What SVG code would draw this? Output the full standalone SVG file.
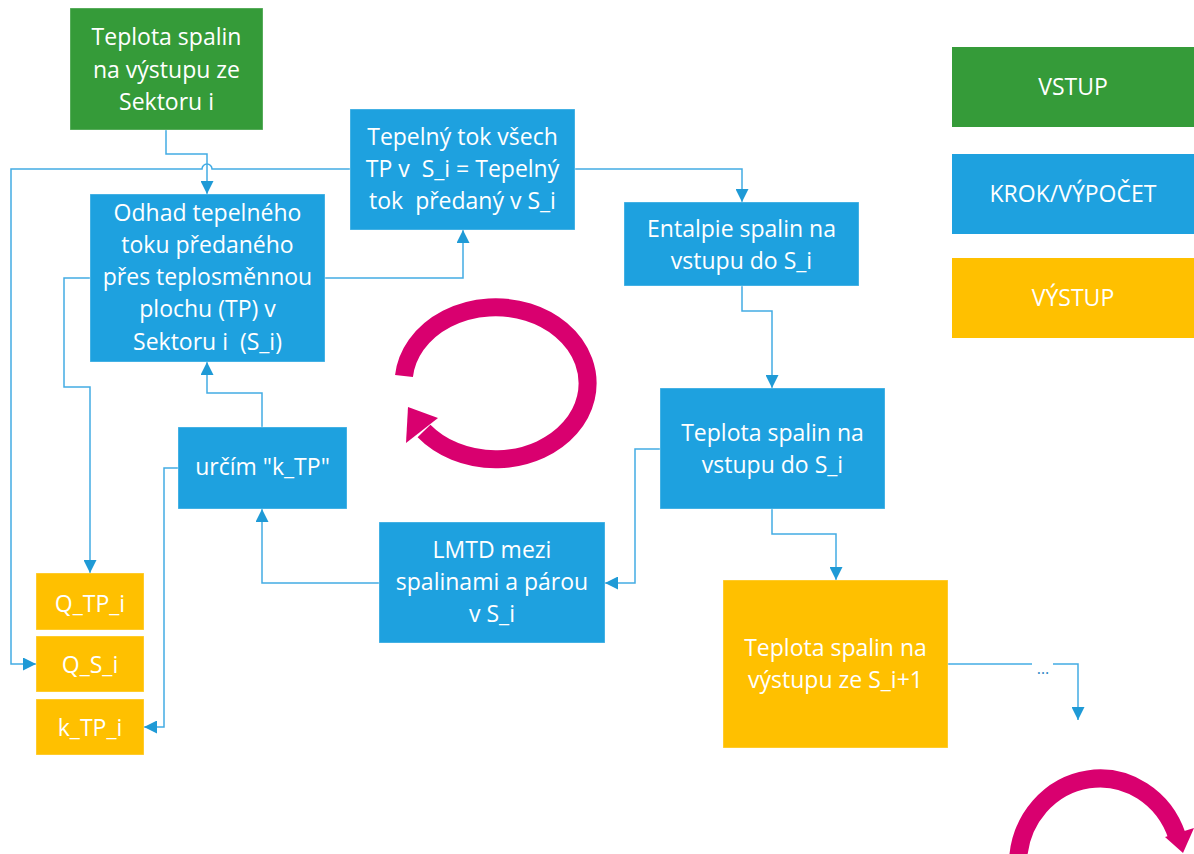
<svg xmlns="http://www.w3.org/2000/svg" width="1194" height="854" viewBox="0 0 1194 854">
<style>
.box{stroke:#ffffff;stroke-opacity:0.35;stroke-width:1}
.in{fill:#359b39}
.step{fill:#1ea1df}
.out{fill:#ffc000}
.t{font-family:"Open Sans","Noto Sans","DejaVu Sans",sans-serif;font-size:23px;fill:#ffffff;text-anchor:middle;white-space:pre}
.c{fill:none;stroke:#43ace4;stroke-width:1.5}
.pink{fill:none;stroke:#d9006f;stroke-width:18}
</style>
<defs>
<marker id="ah" markerUnits="userSpaceOnUse" markerWidth="13" markerHeight="13" viewBox="0 0 12 12" refX="12" refY="6" orient="auto">
<path d="M0,0 L12,6 L0,12 z" fill="#1f9ad6"/>
</marker>
</defs>
<rect width="1194" height="854" fill="#ffffff"/>

<g id="connectors">
<path class="c" d="M166 130 V154 H207 V194" marker-end="url(#ah)"/>
<path class="c" d="M350 169 H212 A5 5 0 0 0 202 169 H11 V664 H36" marker-end="url(#ah)"/>
<path class="c" d="M90 278 H64 V387 H90 V573" marker-end="url(#ah)"/>
<path class="c" d="M325 278 H463 V230" marker-end="url(#ah)"/>
<path class="c" d="M575 169 H742 V202" marker-end="url(#ah)"/>
<path class="c" d="M742 286 V311 H772 V388" marker-end="url(#ah)"/>
<path class="c" d="M660 449 H635 V583 H605" marker-end="url(#ah)"/>
<path class="c" d="M772 509 V534 H836 V580" marker-end="url(#ah)"/>
<path class="c" d="M379 583 H262 V509" marker-end="url(#ah)"/>
<path class="c" d="M178 468 H164 V727 H144" marker-end="url(#ah)"/>
<path class="c" d="M262 427 V393 H207 V362" marker-end="url(#ah)"/>
<path class="c" d="M948 664 H1032"/>
<path class="c" d="M1053 664 H1078 V720" marker-end="url(#ah)"/>
<text x="1043" y="674" font-family="'Open Sans','DejaVu Sans',sans-serif" font-size="16" fill="#2b86c5" text-anchor="middle">…</text>
</g>

<g id="n-input">
<rect class="box in" x="70" y="8" width="193" height="122"/>
<text class="t"><tspan x="166.5" y="45">Teplota spalin</tspan><tspan x="166.5" y="77.5">na výstupu ze</tspan><tspan x="166.5" y="110">Sektoru i</tspan></text>
</g>

<g id="n-odhad">
<rect class="box step" x="90" y="194" width="235" height="168"/>
<text class="t"><tspan x="207.5" y="220.5">Odhad tepelného</tspan><tspan x="207.5" y="252.8">toku předaného</tspan><tspan x="207.5" y="285">přes teplosměnnou</tspan><tspan x="207.5" y="317.3">plochu (TP) v</tspan><tspan x="207.5" y="349.5">Sektoru i  (S_i)</tspan></text>
</g>

<g id="n-tepelny">
<rect class="box step" x="350" y="109" width="225" height="121"/>
<text class="t"><tspan x="462.5" y="145">Tepelný tok všech</tspan><tspan x="462.5" y="177">TP v  S_i = Tepelný</tspan><tspan x="462.5" y="209">tok  předaný v S_i</tspan></text>
</g>

<g id="n-entalpie">
<rect class="box step" x="624" y="202" width="235" height="84"/>
<text class="t"><tspan x="741.5" y="237">Entalpie spalin na</tspan><tspan x="741.5" y="269">vstupu do S_i</tspan></text>
</g>

<g id="n-teplota-vstup">
<rect class="box step" x="660" y="388" width="225" height="121"/>
<text class="t"><tspan x="772.5" y="441">Teplota spalin na</tspan><tspan x="772.5" y="473">vstupu do S_i</tspan></text>
</g>

<g id="n-lmtd">
<rect class="box step" x="379" y="522" width="226" height="121"/>
<text class="t"><tspan x="492" y="558">LMTD mezi</tspan><tspan x="492" y="590">spalinami a párou</tspan><tspan x="492" y="622">v S_i</tspan></text>
</g>

<g id="n-urcim">
<rect class="box step" x="178" y="427" width="169" height="82"/>
<text class="t" x="262.5" y="475">určím "k_TP"</text>
</g>

<g id="n-output-next">
<rect class="box out" x="723" y="580" width="225" height="168"/>
<text class="t"><tspan x="835.5" y="656">Teplota spalin na</tspan><tspan x="835.5" y="688">výstupu ze S_i+1</tspan></text>
</g>

<g id="n-qtp">
<rect class="box out" x="36" y="573" width="108" height="57"/>
<text class="t" x="90" y="612">Q_TP_i</text>
</g>
<g id="n-qs">
<rect class="box out" x="36" y="636" width="108" height="56"/>
<text class="t" x="90" y="673">Q_S_i</text>
</g>
<g id="n-ktp">
<rect class="box out" x="36" y="699" width="108" height="56"/>
<text class="t" x="90" y="736">k_TP_i</text>
</g>

<g id="legend-vstup">
<rect class="in" x="952" y="47" width="242" height="80"/>
<text class="t" x="1073" y="95">VSTUP</text>
</g>
<g id="legend-krok">
<rect class="step" x="952" y="154" width="242" height="80"/>
<text class="t" x="1073" y="202">KROK/VÝPOČET</text>
</g>
<g id="legend-vystup">
<rect class="out" x="952" y="258" width="242" height="80"/>
<text class="t" x="1073" y="306">VÝSTUP</text>
</g>

<g id="loop-arrow">
<path class="pink" d="M404 376 A92 76 0 1 1 424 431"/>
<polygon points="408,407 438,418 406,443" fill="#d9006f"/>
</g>
<g id="loop-arrow-2">
<path class="pink" stroke-width="12" d="M1018 860 A82 87 0 0 1 1177 836"/>
<polygon points="1165,837 1194,828 1183,853" fill="#d9006f"/>
</g>
</svg>
